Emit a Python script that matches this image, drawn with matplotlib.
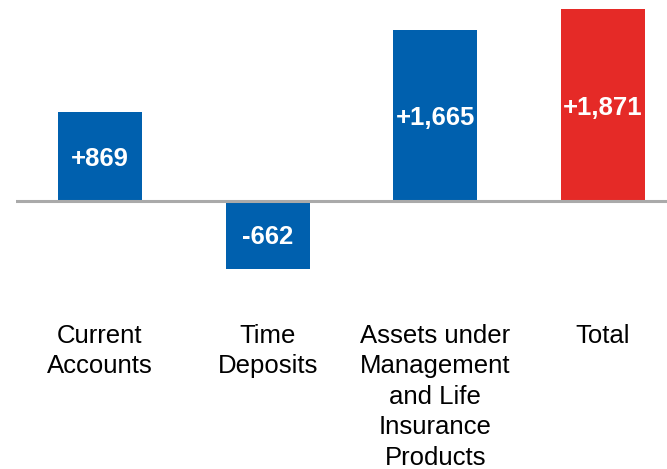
import matplotlib.pyplot as plt
import matplotlib.transforms as mtransforms

plt.rcParams['font.family'] = ['Liberation Sans', 'DejaVu Sans']

categories = ['Current\nAccounts', 'Time\nDeposits',
              'Assets under\nManagement\nand Life\nInsurance\nProducts', 'Total']
values = [869, -662, 1665, 1871]
labels = ['+869', '-662', '+1,665', '+1,871']
colors = ['#0060ae', '#0060ae', '#0060ae', '#e52a27']

W, H = 667, 469
fig = plt.figure(figsize=(W / 100, H / 100), dpi=100)

# axes placed in pixel terms so the bars land where the reference has them
x0, x1 = 16, 687
y_top, y_bot = 6.4, 272.7
ax = fig.add_axes([x0 / W, (H - y_bot) / H, (x1 - x0) / W, (y_bot - y_top) / H])
ax.set_xlim(-0.5, 3.5)
ax.set_ylim(-700, 1900)
ax.axis('off')

x = range(len(values))
ax.bar(x, values, width=0.5, color=colors, zorder=2)
ax.axhline(0, color='#aaaaaa', linewidth=2.2, zorder=3)

for xi, v, lab in zip(x, values, labels):
    ax.text(xi, v / 2 - 25, lab, ha='center', va='center', color='white',
            fontsize=18.5, fontweight='bold', zorder=4)

trans = mtransforms.blended_transform_factory(ax.transData, fig.transFigure)
for xi, cat in zip(x, categories):
    ax.text(xi, (H - 324) / H, cat, transform=trans, ha='center', va='top',
            fontsize=18.5, linespacing=1.34, color='black')

fig.savefig('out.png', dpi=100)
